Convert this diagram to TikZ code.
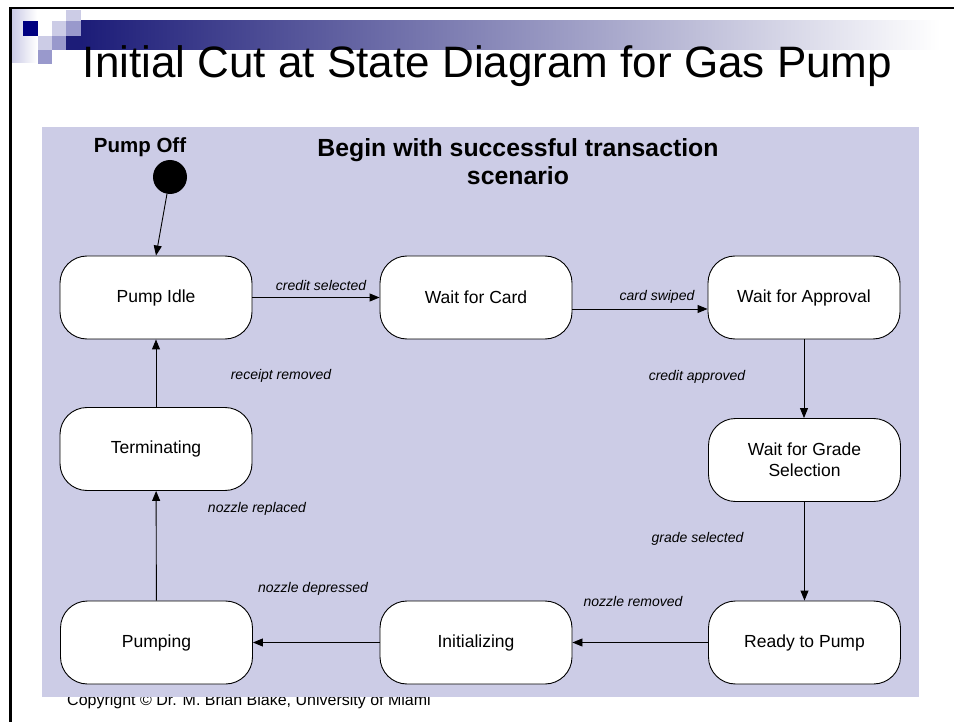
\documentclass[tikz,border=0pt]{standalone}
\usepackage{fontspec}
\setmainfont{Liberation Sans}
\usetikzlibrary{arrows.meta}
\definecolor{lav}{RGB}{204,204,230}
\definecolor{sqmid}{RGB}{153,153,204}
\definecolor{navy}{RGB}{0,0,128}
\definecolor{barnavy}{RGB}{28,28,120}
\definecolor{barmid}{RGB}{196,196,214}
\begin{document}
\begin{tikzpicture}[x=1pt,y=-1pt,
  state/.style={draw=black, line width=0.9pt, fill=white, rounded corners=27pt,
    minimum width=192pt, minimum height=83pt, inner sep=0pt, align=center,
    font=\fontsize{17.5}{21}\selectfont},
  ev/.style={font=\fontsize{14}{17}\selectfont\itshape, inner sep=0pt},
  tr/.style={draw=black, line width=0.9pt, -{Triangle[length=10pt,width=8pt]}}]
\useasboundingbox (0,0) rectangle (954,722);
\fill[white] (0,0) rectangle (954,722);

% slide ornament: small squares and the fading header bar
\shade[left color=lav, right color=white] (12,10) rectangle (37,63);
\fill[navy] (23,21) rectangle (38,36);
\fill[lav] (66,10) rectangle (81,21);
\fill[lav] (52,21) rectangle (66,36);
\fill[sqmid] (66,21) rectangle (81,36);
\fill[lav] (38,36) rectangle (52,50);
\fill[sqmid] (52,36) rectangle (66,50);
\fill[barnavy] (66,36) rectangle (81.5,50);
\shade[left color=barnavy, middle color=barmid, right color=white] (81,21) rectangle (940,50);
\fill[sqmid] (38,50) rectangle (52,64);

% slide frame
\draw[line width=2.5pt] (10.5,722) -- (10.5,8) -- (954,8);

% title
\node[font=\fontsize{44}{50}\selectfont, anchor=base, inner sep=0pt] (title) at (487.5,78)
  {Initial Cut at State Diagram for Gas Pump};

% footer (partly covered by the diagram panel)
\node[anchor=base west, font=\fontsize{16}{19}\selectfont, inner sep=0pt] (copy) at (67,705.5)
  {Copyright © Dr. M. Brian Blake, University of Miami};

% diagram panel
\fill[lav] (42,127) rectangle (919,697);

\node[font=\bfseries\fontsize{24.8}{28}\selectfont, align=center, anchor=base, inner sep=0pt] (head)
  at (518,185) {Begin with successful transaction\\scenario};

% initial state
\node[font=\bfseries\fontsize{20.5}{24}\selectfont, anchor=base, inner sep=0pt] (offlabel) at (140,153) {Pump Off};
\node[circle, fill=black, minimum size=34pt, inner sep=0pt] (off) at (170,177) {};

% states
\node[state] (idle)  at (156,297.5) {Pump Idle};
\node[state] (card)  at (476,297.5) {Wait for Card};
\node[state] (appr)  at (804,297.5) {Wait for Approval};
\node[state] (grade) at (804.5,460) {Wait for Grade\\Selection};
\node[state] (ready) at (804.5,642.5) {Ready to Pump};
\node[state] (init)  at (476,642.5) {Initializing};
\node[state] (pump)  at (156.5,642.5) {Pumping};
\node[state] (term)  at (156,449) {Terminating};

% transitions
\draw[tr] (off) -- (idle.north);
\draw[tr] (idle) -- (card);
\draw[tr] ([yshift=-11.5pt]card.east) -- ([yshift=-11.5pt]appr.west);
\draw[tr] (appr.south) -- (appr.south |- grade.north);
\draw[tr] (grade) -- (ready);
\draw[tr] (ready) -- (init);
\draw[tr] (init) -- (pump);
\draw[tr] (pump) -- (term);
\draw[tr] (term) -- (idle);

% events
\node[ev] (l1) at (321,285) {credit selected};
\node[ev] (l2) at (657,297) {card swiped};
\node[ev] (l3) at (697,377) {credit approved};
\node[ev] (l4) at (697.5,539) {grade selected};
\node[ev] (l5) at (633,601) {nozzle removed};
\node[ev] (l6) at (313,589) {nozzle depressed};
\node[ev] (l7) at (257,509) {nozzle replaced};
\node[ev] (l8) at (281,376) {receipt removed};
\end{tikzpicture}
\end{document}
